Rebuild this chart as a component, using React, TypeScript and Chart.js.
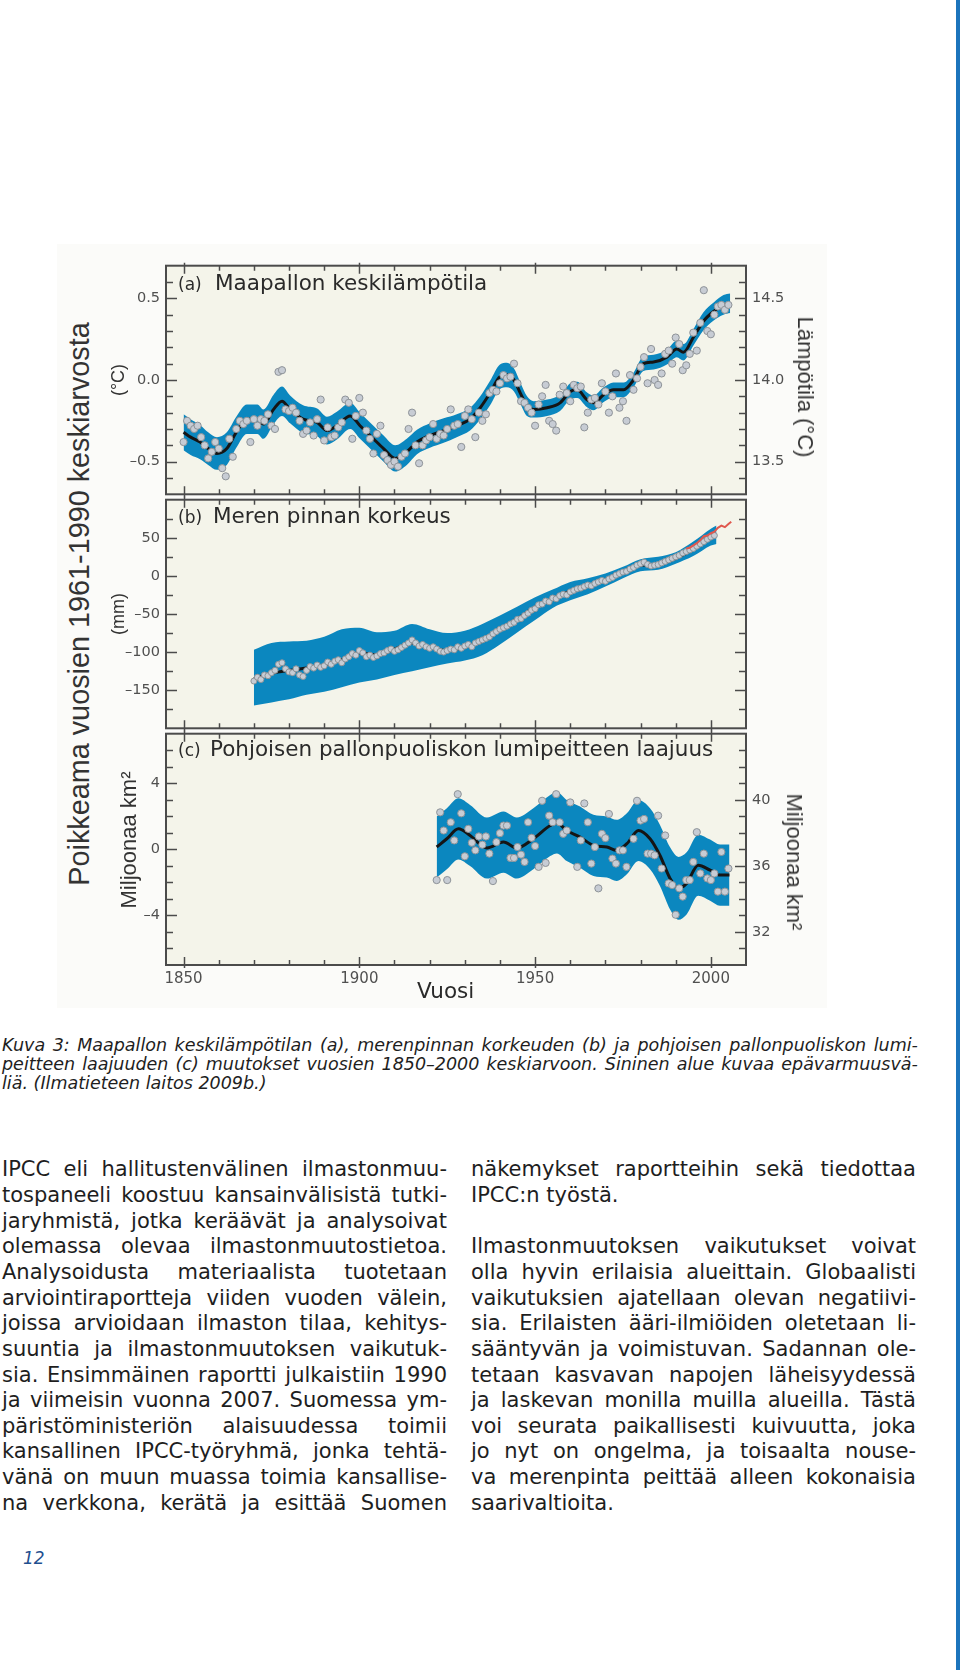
import React, { useEffect, useRef } from 'react';
import { Chart, registerables } from 'chart.js';

Chart.register(...registerables);

// ---------------- shared axis ----------------
const X_MIN = 1845;
const X_MAX = 2010;
const yearLabelTicks = [1850, 1900, 1950, 2000];
const yearMinorTicks = [1860, 1870, 1880, 1890, 1910, 1920, 1930, 1940, 1960, 1970, 1980, 1990];

// ---------------- (a) global mean temperature ----------------
const tempFirstYear = 1850;
const tempAnnual = [
  -0.38, -0.25, -0.28, -0.30, -0.28, -0.35, -0.40, -0.48, -0.44, -0.38,
  -0.42, -0.54, -0.59, -0.36, -0.47, -0.30, -0.25, -0.27, -0.25, -0.38,
  -0.24, -0.28, -0.24, -0.25, -0.21, -0.28, -0.30, 0.05, 0.06, -0.18,
  -0.19, -0.17, -0.20, -0.25, -0.33, -0.31, -0.26, -0.34, -0.24, -0.12,
  -0.37, -0.29, -0.35, -0.34, -0.29, -0.26, -0.12, -0.14, -0.36, -0.22,
  -0.11, -0.20, -0.31, -0.36, -0.45, -0.33, -0.28, -0.46, -0.49, -0.52,
  -0.50, -0.53, -0.47, -0.45, -0.30, -0.20, -0.40, -0.51, -0.40, -0.37,
  -0.35, -0.27, -0.36, -0.33, -0.34, -0.30, -0.18, -0.28, -0.27, -0.41,
  -0.22, -0.18, -0.24, -0.35, -0.20, -0.25, -0.21, -0.08, -0.06, -0.07,
  -0.02, 0.03, 0.01, 0.02, 0.10, -0.02, -0.13, -0.14, -0.17, -0.20,
  -0.28, -0.15, -0.10, -0.03, -0.25, -0.27, -0.31, -0.09, -0.04, -0.08,
  -0.13, -0.03, -0.05, -0.04, -0.29, -0.20, -0.12, -0.11, -0.15, -0.02,
  -0.07, -0.20, -0.10, 0.04, -0.17, -0.13, -0.25, 0.03, -0.06, 0.01,
  0.08, 0.14, -0.02, 0.19, 0.00, -0.03, 0.04, 0.16, 0.18, 0.10,
  0.26, 0.22, 0.06, 0.09, 0.16, 0.29, 0.18, 0.35, 0.55, 0.30,
  0.28, 0.40, 0.45, 0.46, 0.43, 0.46,
];
const tempSmoothYears = [
  1850, 1852, 1854.7, 1857, 1859.5, 1862.3, 1865, 1868, 1871, 1872.7,
  1875.6, 1878, 1880.3, 1884, 1888, 1890.8, 1893.6, 1897.4, 1900.2, 1904,
  1906.9, 1910.2, 1913.5, 1916.4, 1920.1, 1924, 1927.7, 1931.5, 1934.4, 1937.2,
  1940, 1942, 1944, 1945.8, 1947.7, 1949.6, 1953.4, 1957.1, 1960, 1962,
  1964.7, 1966.6, 1969.5, 1972.3, 1975.2, 1978, 1980.8, 1983.7, 1987.5, 1990.3,
  1992.2, 1995, 1997.9, 2000.8, 2003.6, 2005.5,
];
const tempSmooth = [
  -0.32, -0.35, -0.38, -0.42, -0.45, -0.42, -0.32, -0.24, -0.24, -0.27,
  -0.18, -0.13, -0.18, -0.24, -0.26, -0.31, -0.28, -0.22, -0.28, -0.36,
  -0.42, -0.48, -0.44, -0.38, -0.34, -0.31, -0.28, -0.24, -0.17, -0.08,
  0.02, 0.03, 0.0, -0.08, -0.16, -0.18, -0.17, -0.14, -0.07, -0.06,
  -0.12, -0.14, -0.09, -0.06, -0.06, 0.0, 0.10, 0.11, 0.14, 0.19,
  0.17, 0.26, 0.36, 0.42, 0.46, 0.47,
];
const tempBandHalf = [
  0.11, 0.11, 0.105, 0.10, 0.10, 0.10, 0.095, 0.09, 0.09, 0.09,
  0.09, 0.09, 0.085, 0.085, 0.085, 0.085, 0.085, 0.08, 0.08, 0.08,
  0.08, 0.08, 0.08, 0.075, 0.075, 0.075, 0.07, 0.07, 0.07, 0.075,
  0.075, 0.075, 0.07, 0.065, 0.06, 0.05, 0.05, 0.05, 0.05, 0.05,
  0.045, 0.045, 0.045, 0.045, 0.045, 0.045, 0.045, 0.045, 0.045, 0.05,
  0.05, 0.05, 0.055, 0.055, 0.06, 0.06,
];
const tempLeftLabels = [-0.5, 0, 0.5];
const tempLeftMinor = [-0.6, -0.4, -0.3, -0.2, -0.1, 0.1, 0.2, 0.3, 0.4, 0.6];
const tempRightLabels = [13.5, 14.0, 14.5];
const tempRightMinor = [13.4, 13.6, 13.7, 13.8, 13.9, 14.1, 14.2, 14.3, 14.4, 14.6];

// ---------------- (b) sea level ----------------
const seaFirstYear = 1870;
const seaAnnual = [
  -138, -133, -136, -130, -131, -127, -124, -116, -114, -122,
  -126, -127, -122, -130, -132, -124, -119, -121, -117, -120,
  -118, -113, -116, -112, -110, -114, -109, -106, -102, -104,
  -98, -101, -106, -104, -107, -105, -102, -101, -98, -96,
  -99, -97, -94, -91, -88, -84, -88, -92, -90, -93,
  -95, -93, -96, -99, -100, -98, -96, -97, -93, -95,
  -92, -90, -93, -88, -86, -84, -82, -80, -76, -73,
  -70, -68, -66, -63, -61, -57, -56, -52, -49, -45,
  -43, -38, -37, -33, -34, -29, -30, -26, -24, -25,
  -21, -19, -17, -16, -14, -12, -13, -10, -8, -6,
  -7, -4, -2, 1, 3, 5, 6, 9, 11, 14,
  16, 18, 15, 13, 14, 15, 17, 19, 21, 23,
  25, 27, 30, 32, 34, 36, 39, 42, 45, 48,
  51, 53,
];
const seaSmoothYears = [
  1870, 1875, 1880, 1885, 1890, 1895, 1900, 1905, 1910, 1915,
  1920, 1925, 1930, 1935, 1940, 1945, 1950, 1955, 1960, 1965,
  1970, 1975, 1980, 1985, 1990, 1995, 2000, 2001.6,
];
const seaSmooth = [
  -135, -128, -124, -121, -117, -110, -101, -104, -96, -88,
  -94, -98, -93, -86, -70, -56, -41, -30, -20, -13,
  -6, 5, 14, 15, 23, 35, 50, 55,
];
const seaUpper = [
  -97, -88, -86, -85, -80, -70, -68, -74, -72, -63,
  -70, -75, -72, -63, -52, -40, -28, -18, -8, -3,
  3, 12, 22, 25, 31, 45, 62, 66,
];
const seaLower = [
  -170, -166, -162, -156, -152, -146, -140, -136, -130, -125,
  -120, -115, -111, -104, -90, -74, -58, -42, -32, -24,
  -14, -3, 6, 8, 16, 26, 40, 42,
];
const satYears = [1993, 1994, 1995, 1996, 1997, 1998, 1999, 2000, 2001, 2002, 2003, 2004, 2005, 2005.8];
const satValues = [36, 37, 40, 43, 47, 52, 53, 56, 58, 63, 66, 64, 68, 71];
const seaLabels = [-150, -100, -50, 0, 50];
const seaMinor = [-175, -125, -75, -25, 25, 75];

// ---------------- (c) NH snow cover ----------------
const snowYears = [
  1922, 1923, 1924, 1925, 1926, 1927, 1928, 1929, 1930, 1931,
  1932, 1933, 1934, 1935, 1936, 1937, 1938, 1939, 1940, 1941,
  1942, 1943, 1944, 1945, 1946, 1947, 1948, 1949, 1950, 1951,
  1952, 1953, 1954, 1955, 1956, 1957, 1958, 1959, 1960, 1962,
  1963, 1964, 1965, 1966, 1967, 1968, 1969, 1970, 1971, 1972,
  1973, 1974, 1975, 1976, 1978, 1979, 1980, 1981, 1982, 1983,
  1984, 1985, 1986, 1987, 1988, 1989, 1990, 1991, 1992, 1993,
  1994, 1995, 1996, 1997, 1998, 1999, 2000, 2001, 2002, 2003,
  2004, 2005,
];
const snowAnnual = [
  -1.86, 2.24, 1.14, -1.86, 1.64, 0.54, 3.34, 2.18, -0.42, 1.24,
  0.40, -0.06, 0.78, 0.28, 0.78, -0.26, -1.92, 0.44, 0.98, 1.44,
  1.44, -0.52, -0.52, 0.14, -0.32, -0.76, 1.64, 0.70, 0.20, -1.06,
  2.94, -0.82, 2.04, 1.64, 3.34, 1.64, 0.94, 1.14, 2.84, -1.06,
  0.54, 2.78, 1.64, -0.86, 0.14, -2.36, 0.94, 0.68, 2.14, -0.56,
  -0.86, -0.06, -0.06, -1.06, 0.64, 2.94, 1.74, 1.84, -0.26, -0.26,
  -0.36, 2.04, -1.16, 0.84, -2.06, -2.16, -3.96, -2.36, -2.86, -1.86,
  -1.86, -0.76, 1.04, -1.46, -0.26, -1.76, -1.86, -1.46, -2.56, -0.16,
  -2.56, -1.16,
];
const snowSmoothYears = [
  1922, 1924.9, 1928.2, 1931.5, 1936.3, 1941, 1944.8, 1949.5, 1954.3, 1956.2,
  1959, 1962.8, 1966.6, 1970.4, 1973.2, 1976.1, 1979.4, 1982.7, 1985.5, 1988.4,
  1990.8, 1993.1, 1996.4, 1999.8, 2002.6, 2005.3,
];
const snowSmooth = [
  0.14, 0.64, 1.24, 0.84, 0.08, 0.44, 0.08, 0.64, 1.44, 1.6,
  1.14, 0.74, 0.24, 0.14, -0.06, 0.34, 1.14, 0.64, -0.36, -1.76,
  -2.36, -2.06, -0.96, -1.26, -1.56, -1.56,
];
const snowBandHalf = [
  1.85, 1.85, 1.85, 1.85, 1.85, 1.85, 1.85, 1.85, 1.85, 1.85,
  1.85, 1.85, 1.85, 1.85, 1.85, 1.85, 1.85, 1.85, 1.85, 1.88,
  1.9, 1.88, 1.85, 1.85, 1.85, 1.85,
];
const snowLeftLabels = [-4, 0, 4];
const snowLeftMinor = [-6, -5, -3, -2, -1, 1, 2, 3, 5, 6];
const snowRightLabels = [32, 36, 40];
const snowRightMinor = [31, 33, 34, 35, 37, 38, 39, 41, 42, 43];

// ---------------- texts ----------------
const captionLines = [
  'Kuva 3: Maapallon keskilämpötilan (a), merenpinnan korkeuden (b) ja pohjoisen pallonpuoliskon lumi-',
  'peitteen laajuuden (c) muutokset vuosien 1850–2000 keskiarvoon. Sininen alue kuvaa epävarmuusvä-',
  'liä. (Ilmatieteen laitos 2009b.)',
];
const col1Lines = [
  'IPCC eli hallitustenvälinen ilmastonmuu-',
  'tospaneeli koostuu kansainvälisistä tutki-',
  'jaryhmistä, jotka keräävät ja analysoivat',
  'olemassa olevaa ilmastonmuutostietoa.',
  'Analysoidusta materiaalista tuotetaan',
  'arviointiraportteja viiden vuoden välein,',
  'joissa arvioidaan ilmaston tilaa, kehitys-',
  'suuntia ja ilmastonmuutoksen vaikutuk-',
  'sia. Ensimmäinen raportti julkaistiin 1990',
  'ja viimeisin vuonna 2007. Suomessa ym-',
  'päristöministeriön alaisuudessa toimii',
  'kansallinen IPCC-työryhmä, jonka tehtä-',
  'vänä on muun muassa toimia kansallise-',
  'na verkkona, kerätä ja esittää Suomen',
];
const col2Lines = [
  'näkemykset raportteihin sekä tiedottaa',
  'IPCC:n työstä.',
  '',
  'Ilmastonmuutoksen vaikutukset voivat',
  'olla hyvin erilaisia alueittain. Globaalisti',
  'vaikutuksien ajatellaan olevan negatiivi-',
  'sia. Erilaisten ääri-ilmiöiden oletetaan li-',
  'sääntyvän ja voimistuvan. Sadannan ole-',
  'tetaan kasvavan napojen läheisyydessä',
  'ja laskevan monilla muilla alueilla. Tästä',
  'voi seurata paikallisesti kuivuutta, joka',
  'jo nyt on ongelma, ja toisaalta nouse-',
  'va merenpinta peittää alleen kokonaisia',
  'saarivaltioita.',
];
const col2Ragged = [1, 13];

// ---------------- styling ----------------
const BAND = '#0b87bf';
const LINE = '#151515';
const PT_FILL = '#c7ccd4';
const PT_EDGE = '#8e9398';
const PLOT_BG = '#f4f4ea';
const FRAME = '#4b4b4b';
const TICK_TXT = '#505050';
const SANS = '"DejaVu Sans", sans-serif';
const HELV = '"Liberation Sans", Arial, sans-serif';
const Y_TICK_FONT = { family: SANS, size: 14.5 };
const X_TICK_FONT = { family: SANS, size: 15 };
const CANVAS_LEFT = 100;
const CANVAS_W = 700;
const LEFT_W = 66;
const RIGHT_W = 54;
const X_AXIS_H = 35;

const pts = (xs: number[], ys: number[]) => ys.map((y, i) => ({ x: xs[i], y }));
const yearsFrom = (start: number, n: number) => Array.from({ length: n }, (_, i) => start + i);
const dash = (s: string) => s.replace('-', '\u2013');

function bandSets(xs: number[], upper: number[], lower: number[]) {
  return [
    { data: pts(xs, upper), borderWidth: 0, pointRadius: 0, fill: '+1', backgroundColor: BAND, cubicInterpolationMode: 'monotone', order: 5 },
    { data: pts(xs, lower), borderWidth: 0, pointRadius: 0, fill: false, cubicInterpolationMode: 'monotone', order: 6 },
  ];
}
function lineSet(xs: number[], ys: number[]) {
  return { data: pts(xs, ys), borderColor: LINE, borderWidth: 3, pointRadius: 0, fill: false, cubicInterpolationMode: 'monotone', order: 2 };
}
function pointSet(xs: number[], ys: number[], r: number) {
  return {
    data: pts(xs, ys), showLine: false, pointRadius: r, pointHoverRadius: r,
    pointBackgroundColor: PT_FILL, pointBorderColor: PT_EDGE, pointBorderWidth: 1, order: 1,
  };
}

type Spec = {
  id: string; top: number; height: number; padTop: number; padBottom: number; showX: boolean;
  yMin: number; yMax: number; yLabels: number[]; yMinor: number[]; yFmt: (v: number) => string;
  rMin: number; rMax: number; rLabels: number[]; rMinor: number[]; rFmt: ((v: number) => string) | null;
  datasets: any[];
};

const panels: Spec[] = [
  {
    id: 'a', top: 251, height: 258, padTop: 12, padBottom: 12, showX: false,
    yMin: -0.7, yMax: 0.7, yLabels: tempLeftLabels, yMinor: tempLeftMinor, yFmt: (v) => dash(v.toFixed(1)),
    rMin: 13.3, rMax: 14.7, rLabels: tempRightLabels, rMinor: tempRightMinor, rFmt: (v) => v.toFixed(1),
    datasets: [
      ...bandSets(tempSmoothYears, tempSmooth.map((v, i) => v + tempBandHalf[i]), tempSmooth.map((v, i) => v - tempBandHalf[i])),
      lineSet(tempSmoothYears, tempSmooth),
      pointSet(yearsFrom(tempFirstYear, tempAnnual.length), tempAnnual, 3.6),
    ],
  },
  {
    id: 'b', top: 485, height: 258, padTop: 12, padBottom: 12, showX: false,
    yMin: -200, yMax: 100, yLabels: seaLabels, yMinor: seaMinor, yFmt: (v) => dash(String(v)),
    rMin: -200, rMax: 100, rLabels: seaLabels, rMinor: seaMinor, rFmt: null,
    datasets: [
      ...bandSets(seaSmoothYears, seaUpper, seaLower),
      lineSet(seaSmoothYears, seaSmooth),
      pointSet(yearsFrom(seaFirstYear, seaAnnual.length), seaAnnual, 3),
      { data: pts(satYears, satValues), borderColor: '#e0574d', borderWidth: 2, pointRadius: 0, fill: false, order: 0 },
    ],
  },
  {
    id: 'c', top: 719, height: 281, padTop: 12, padBottom: 0, showX: true,
    yMin: -7, yMax: 7, yLabels: snowLeftLabels, yMinor: snowLeftMinor, yFmt: (v) => dash(String(v)),
    rMin: 30, rMax: 44, rLabels: snowRightLabels, rMinor: snowRightMinor, rFmt: (v) => String(v),
    datasets: [
      ...bandSets(snowSmoothYears, snowSmooth.map((v, i) => v + snowBandHalf[i]), snowSmooth.map((v, i) => v - snowBandHalf[i])),
      lineSet(snowSmoothYears, snowSmooth),
      pointSet(snowYears, snowAnnual, 3.6),
    ],
  },
];

function framePlugin(p: Spec) {
  return {
    id: 'frame_' + p.id,
    beforeDraw(chart: any) {
      const { ctx, chartArea: a } = chart;
      ctx.save();
      ctx.fillStyle = PLOT_BG;
      ctx.fillRect(a.left, a.top, a.right - a.left, a.bottom - a.top);
      ctx.restore();
    },
    afterDraw(chart: any) {
      const { ctx, chartArea: a, scales } = chart;
      const sx = scales.x, sy = scales.y, sr = scales.yR;
      ctx.save();
      ctx.strokeStyle = FRAME;
      ctx.lineWidth = 1.5;
      ctx.beginPath();
      const xt = (v: number, len: number, out: number) => {
        const px = Math.round(sx.getPixelForValue(v)) + 0.5;
        ctx.moveTo(px, a.top - out); ctx.lineTo(px, a.top + len);
        ctx.moveTo(px, a.bottom + out); ctx.lineTo(px, a.bottom - len);
      };
      yearLabelTicks.forEach((v) => xt(v, 8, 3));
      yearMinorTicks.forEach((v) => xt(v, 5, 0));
      const lt = (v: number, len: number) => {
        const py = Math.round(sy.getPixelForValue(v)) + 0.5;
        ctx.moveTo(a.left, py); ctx.lineTo(a.left + len, py);
      };
      p.yLabels.forEach((v) => lt(v, 11));
      p.yMinor.forEach((v) => lt(v, 7));
      const rt = (v: number, len: number) => {
        const py = Math.round(sr.getPixelForValue(v)) + 0.5;
        ctx.moveTo(a.right, py); ctx.lineTo(a.right - len, py);
      };
      p.rLabels.forEach((v) => rt(v, 11));
      p.rMinor.forEach((v) => rt(v, 7));
      ctx.stroke();
      ctx.lineWidth = 2;
      ctx.strokeRect(a.left, a.top, a.right - a.left, a.bottom - a.top);
      ctx.restore();
    },
  };
}

function buildConfig(p: Spec): any {
  return {
    type: 'line',
    data: { datasets: p.datasets },
    options: {
      animation: false,
      responsive: false,
      maintainAspectRatio: false,
      events: [],
      layout: { padding: { top: p.padTop, bottom: p.padBottom, left: 0, right: 0 } },
      plugins: { legend: { display: false }, tooltip: { enabled: false } },
      scales: {
        x: {
          type: 'linear', min: X_MIN, max: X_MAX, display: p.showX,
          afterBuildTicks: (s: any) => { s.ticks = yearLabelTicks.map((v) => ({ value: v })); },
          afterFit: (s: any) => { s.height = p.showX ? X_AXIS_H : 0; },
          grid: { display: false, drawTicks: false }, border: { display: false },
          ticks: { autoSkip: false, maxRotation: 0, padding: 5, color: TICK_TXT, font: X_TICK_FONT, callback: (v: number) => String(v) },
        },
        y: {
          type: 'linear', position: 'left', min: p.yMin, max: p.yMax,
          afterBuildTicks: (s: any) => { s.ticks = p.yLabels.map((v) => ({ value: v })); },
          afterFit: (s: any) => { s.width = LEFT_W; },
          grid: { display: false, drawTicks: false }, border: { display: false },
          ticks: { autoSkip: false, padding: 6, color: TICK_TXT, font: Y_TICK_FONT, callback: (v: number) => p.yFmt(v) },
        },
        yR: {
          type: 'linear', position: 'right', min: p.rMin, max: p.rMax,
          afterBuildTicks: (s: any) => { s.ticks = p.rLabels.map((v) => ({ value: v })); },
          afterFit: (s: any) => { s.width = RIGHT_W; },
          grid: { display: false, drawTicks: false }, border: { display: false },
          ticks: { display: p.rFmt !== null, autoSkip: false, padding: 6, color: TICK_TXT, font: Y_TICK_FONT, callback: (v: number) => (p.rFmt ? p.rFmt(v) : '') },
        },
      },
    },
    plugins: [framePlugin(p)],
  };
}

function Panel({ spec }: { spec: Spec }) {
  const ref = useRef<HTMLCanvasElement>(null);
  useEffect(() => {
    const chart = new Chart(ref.current as HTMLCanvasElement, buildConfig(spec));
    return () => chart.destroy();
  }, []);
  return (
    <canvas
      ref={ref}
      width={CANVAS_W}
      height={spec.height}
      style={{ position: 'absolute', left: CANVAS_LEFT, top: spec.top, width: CANVAS_W, height: spec.height }}
    />
  );
}

// text placed by baseline
function Txt(props: { x: number; base: number; size: number; family?: string; italic?: boolean; color?: string; children: any }) {
  const { x, base, size, family = SANS, italic = false, color = '#222', children } = props;
  return (
    <div style={{ position: 'absolute', left: x, top: base - 0.846 * size, fontSize: size, lineHeight: 1, fontFamily: family, fontStyle: italic ? 'italic' : 'normal', color, whiteSpace: 'pre' }}>
      {children}
    </div>
  );
}

function Rot(props: { cx: number; cy: number; size: number; deg: number; family?: string; color?: string; children: any }) {
  const { cx, cy, size, deg, family = HELV, color = '#333', children } = props;
  return (
    <div style={{ position: 'absolute', left: cx, top: cy, transform: `translate(-50%, -50%) rotate(${deg}deg)`, fontSize: size, lineHeight: 1, fontFamily: family, color, whiteSpace: 'nowrap' }}>
      {children}
    </div>
  );
}

function JLine(props: { text: string; x: number; base: number; w: number; size: number; italic?: boolean; justify: boolean; color: string }) {
  const { text, x, base, w, size, italic = false, justify, color } = props;
  const st: any = { position: 'absolute', left: x, top: base - 0.846 * size, fontSize: size, lineHeight: 1, fontFamily: SANS, fontStyle: italic ? 'italic' : 'normal', color, whiteSpace: 'pre' };
  if (!justify) return <div style={st}>{text}</div>;
  const words = text.split(' ');
  return (
    <div style={{ ...st, width: w, display: 'flex', justifyContent: 'space-between' }}>
      {words.map((wd, i) => (
        <span key={i}>{wd}{i < words.length - 1 ? ' ' : ''}</span>
      ))}
    </div>
  );
}

export default function App() {
  useEffect(() => {
    document.body.style.margin = '0';
  }, []);
  const BODY = 21;
  const LH = 25.66;
  const CAP = 17.5;
  return (
    <div style={{ position: 'absolute', left: 0, top: 0, width: 960, height: 1670, background: '#ffffff', overflow: 'hidden' }}>
      <div style={{ position: 'absolute', left: 57, top: 244, width: 770, height: 764, background: '#fbfbf9' }} />
      {panels.map((p) => <Panel key={p.id} spec={p} />)}

      {/* panel titles */}
      <Txt x={178} base={290} size={17} color="#2a2a2a">(a)</Txt>
      <Txt x={215} base={290} size={21.5} color="#2a2a2a">Maapallon keskilämpötila</Txt>
      <Txt x={178} base={523.5} size={17} color="#2a2a2a">(b)</Txt>
      <Txt x={213} base={523.5} size={21.5} color="#2a2a2a">Meren pinnan korkeus</Txt>
      <Txt x={178} base={756.5} size={17} color="#2a2a2a">(c)</Txt>
      <Txt x={210} base={756.5} size={21.5} color="#2a2a2a">Pohjoisen pallonpuoliskon lumipeitteen laajuus</Txt>

      {/* axis titles */}
      <Rot cx={78.5} cy={604} size={28.8} deg={-90}>Poikkeama vuosien 1961-1990 keskiarvosta</Rot>
      <Rot cx={118} cy={380} size={18} deg={-90}>(°C)</Rot>
      <Rot cx={118} cy={614} size={18} deg={-90}>(mm)</Rot>
      <Rot cx={128.5} cy={840} size={22} deg={-90}>Miljoonaa km²</Rot>
      <Rot cx={805} cy={387} size={22} deg={90}>Lämpötila (°C)</Rot>
      <Rot cx={794} cy={862} size={22} deg={90}>Miljoonaa km²</Rot>
      <Txt x={417} base={998} size={21.5} color="#2a2a2a">Vuosi</Txt>

      {/* caption */}
      {captionLines.map((t, i) => (
        <JLine key={'c' + i} text={t} x={2} base={1051.5 + i * 19.3} w={916} size={CAP} italic justify={i < 2} color="#1e1e1e" />
      ))}

      {/* body text */}
      {col1Lines.map((t, i) => (
        <JLine key={'l' + i} text={t} x={2} base={1177 + i * LH} w={445} size={BODY} justify color="#1e1e1e" />
      ))}
      {col2Lines.map((t, i) =>
        t ? (
          <JLine key={'r' + i} text={t} x={471} base={1177 + i * LH} w={445} size={BODY} justify={!col2Ragged.includes(i)} color="#1e1e1e" />
        ) : null
      )}

      {/* page number */}
      <Txt x={23} base={1564} size={17} italic color="#1f4f8f">12</Txt>

      {/* right edge stripe */}
      <div style={{ position: 'absolute', left: 956, top: 0, width: 4, height: 1670, background: '#1c74bc' }} />
    </div>
  );
}
